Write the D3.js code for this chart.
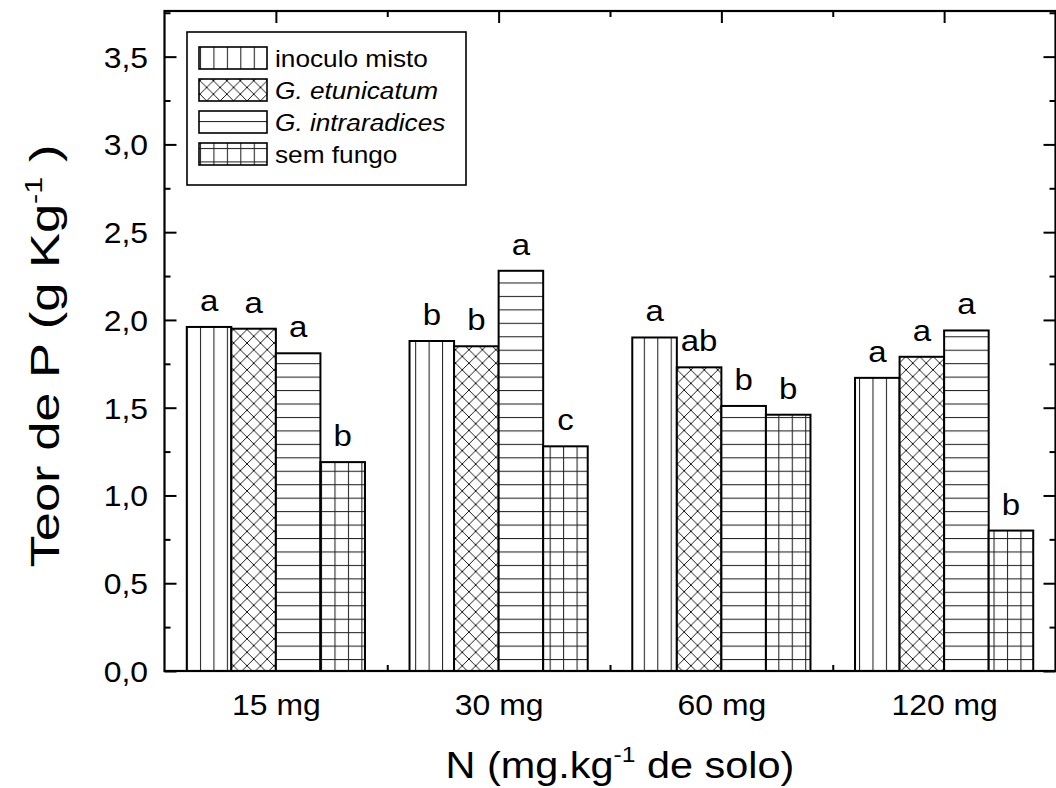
<!DOCTYPE html>
<html lang="pt">
<head>
<meta charset="UTF-8" />
<title>Teor de P</title>
<style>
  body { margin: 0; padding: 0; background: #fff; }
  svg { display: block; font-family: "Liberation Sans", Arial, sans-serif; }
</style>
</head>
<body>
<div id="chart"></div>
<script src="https://d3js.org/d3.v7.min.js"></script>
<script>
// data
const doses = ["15 mg", "30 mg", "60 mg", "120 mg"];
const series = ["inoculo misto", "G. etunicatum", "G. intraradices", "sem fungo"];
const inoculoMisto   = [1.96, 1.88, 1.90, 1.67];
const gEtunicatum    = [1.95, 1.85, 1.73, 1.79];
const gIntraradices  = [1.81, 2.28, 1.51, 1.94];
const semFungo       = [1.19, 1.28, 1.46, 0.80];
const lettersMisto   = ["a", "b", "a", "a"];
const lettersEtun    = ["a", "b", "ab", "a"];
const lettersIntra   = ["a", "a", "b", "a"];
const lettersSem     = ["b", "c", "b", "b"];
const yTicks = [0, 0.5, 1.0, 1.5, 2.0, 2.5, 3.0, 3.5];

const values = [inoculoMisto, gEtunicatum, gIntraradices, semFungo];
const letters = [lettersMisto, lettersEtun, lettersIntra, lettersSem];
const italic = [false, true, true, false];
const patIds = ["pVert", "pCross", "pHoriz", "pGrid"];

const W = 1056, H = 788;
const mLeft = 164.5, mRight = 1055.5, mTop = 11, mBottom = 671;
const SX = 1.1; // text in the picture is a little wider than plain Arial

const svg = d3.select("#chart").append("svg").attr("width", W).attr("height", H);

// hatch patterns
const defs = svg.append("defs");
const P = 13.45;
function pattern(id) {
  return defs.append("pattern").attr("id", id).attr("patternUnits", "userSpaceOnUse")
    .attr("x", 186.5).attr("y", 0).attr("width", P).attr("height", P);
}
let p = pattern("pVert");
p.append("rect").attr("width", P).attr("height", P).attr("fill", "#fff");
p.append("line").attr("x1", 0.5).attr("x2", 0.5).attr("y1", 0).attr("y2", P).attr("stroke", "#222").attr("stroke-width", 1.1);
p = pattern("pHoriz");
p.append("rect").attr("width", P).attr("height", P).attr("fill", "#fff");
p.append("line").attr("y1", 0.5).attr("y2", 0.5).attr("x1", 0).attr("x2", P).attr("stroke", "#222").attr("stroke-width", 1.1);
p = pattern("pGrid");
p.append("rect").attr("width", P).attr("height", P).attr("fill", "#fff");
p.append("line").attr("x1", 0.5).attr("x2", 0.5).attr("y1", 0).attr("y2", P).attr("stroke", "#222").attr("stroke-width", 1.1);
p.append("line").attr("y1", 0.5).attr("y2", 0.5).attr("x1", 0).attr("x2", P).attr("stroke", "#222").attr("stroke-width", 1.1);
p = pattern("pCross");
p.append("rect").attr("width", P).attr("height", P).attr("fill", "#fff");
p.append("path").attr("d", `M0,0L${P},${P}M${P},0L0,${P}M-1,${P - 1}L1,${P + 1}M${P - 1},-1L${P + 1},1`)
  .attr("stroke", "#000").attr("stroke-width", 0.9).attr("fill", "none");

// scales
const x = d3.scaleLinear().domain([0.5, 4.5]).range([mLeft, mRight]);
const y = d3.scaleLinear().domain([0, 3.76]).range([mBottom, mTop]);
const bw = 0.2;

// bars
values.forEach((vals, s) => {
  const g = svg.append("g");
  g.selectAll("rect").data(vals).join("rect")
    .attr("x", (d, i) => x(i + 1 - 0.4 + s * bw))
    .attr("width", x(bw) - x(0))
    .attr("y", d => y(d))
    .attr("height", d => y(0) - y(d))
    .attr("fill", `url(#${patIds[s]})`)
    .attr("stroke", "#000").attr("stroke-width", 2);
  g.selectAll("text").data(vals).join("text")
    .attr("transform", (d, i) => `translate(${x(i + 1 - 0.4 + (s + 0.5) * bw)},${y(d) - 16}) scale(${SX},1)`)
    .attr("text-anchor", "middle")
    .attr("font-size", 30)
    .text((d, i) => letters[s][i]);
});

// axes (ticks inside)
const groupTicks = [1, 2, 3, 4];
const midTicks = [1.5, 2.5, 3.5];
const minorY = d3.range(0.25, 3.76, 0.5);

function styleAxis(g) {
  g.select(".domain").remove();
  g.selectAll("line").attr("stroke", "#000").attr("stroke-width", 2);
}

svg.append("g").attr("transform", `translate(${mLeft},0)`)
  .call(d3.axisLeft(y).tickValues(yTicks).tickSize(-12).tickPadding(0).tickFormat(d => d3.format(".1f")(d).replace(".", ",")))
  .call(styleAxis)
  .call(g => g.selectAll("text")
    .attr("font-size", 29).attr("fill", "#000").attr("font-family", "Liberation Sans, Arial, sans-serif")
    .attr("x", -15).attr("dy", "0.36em")
    .attr("transform", `scale(${SX},1)`));
svg.append("g").attr("transform", `translate(${mLeft},0)`)
  .call(d3.axisLeft(y).tickValues(minorY).tickSize(-6).tickFormat(""))
  .call(styleAxis);
svg.append("g").attr("transform", `translate(${mRight},0)`)
  .call(d3.axisRight(y).tickValues(yTicks).tickSize(-12).tickFormat(""))
  .call(styleAxis);
svg.append("g").attr("transform", `translate(${mRight},0)`)
  .call(d3.axisRight(y).tickValues(minorY).tickSize(-6).tickFormat(""))
  .call(styleAxis);

svg.append("g").attr("transform", `translate(0,${mTop})`)
  .call(d3.axisTop(x).tickValues(groupTicks).tickSize(-12).tickFormat(""))
  .call(styleAxis);
svg.append("g").attr("transform", `translate(0,${mTop})`)
  .call(d3.axisTop(x).tickValues(midTicks).tickSize(-6).tickFormat(""))
  .call(styleAxis);
svg.append("g").attr("transform", `translate(0,${mBottom})`)
  .call(d3.axisBottom(x).tickValues(midTicks).tickSize(-6).tickFormat(""))
  .call(styleAxis);
svg.append("g").attr("transform", `translate(0,${mBottom})`)
  .call(d3.axisBottom(x).tickValues(groupTicks).tickSize(0).tickPadding(0).tickFormat((d, i) => doses[i]))
  .call(styleAxis)
  .call(g => g.selectAll("text")
    .attr("font-size", 29).attr("fill", "#000").attr("font-family", "Liberation Sans, Arial, sans-serif")
    .attr("y", 44).attr("dy", 0)
    .attr("transform", `scale(${SX},1)`));

// frame
svg.append("rect").attr("x", mLeft).attr("y", mTop).attr("width", mRight - mLeft).attr("height", mBottom - mTop)
  .attr("fill", "none").attr("stroke", "#000").attr("stroke-width", 2.2);

// legend
const lg = svg.append("g");
lg.append("rect").attr("x", 187).attr("y", 32).attr("width", 279).attr("height", 153)
  .attr("fill", "#fff").attr("stroke", "#000").attr("stroke-width", 1.6);
series.forEach((name, s) => {
  const yy = 47 + s * 32;
  lg.append("rect").attr("x", 199).attr("y", yy).attr("width", 68).attr("height", 22)
    .attr("fill", `url(#${patIds[s]})`).attr("stroke", "#000").attr("stroke-width", 1.6);
  lg.append("text")
    .attr("transform", `translate(275,${yy + 20}) scale(1.07,1)`)
    .attr("font-size", 24.5)
    .attr("font-style", italic[s] ? "italic" : "normal")
    .text(name);
});

// axis titles
const xt = svg.append("text")
  .attr("transform", `translate(620,778) scale(1.12,1)`)
  .attr("text-anchor", "middle").attr("font-size", 37);
xt.append("tspan").text("N (mg.kg");
xt.append("tspan").attr("font-size", 22).attr("dy", -16).text("-1");
xt.append("tspan").attr("dy", 16).text(" de solo)");

const yt = svg.append("text")
  .attr("transform", `translate(59,356) rotate(-90) scale(1.28,1)`)
  .attr("text-anchor", "middle").attr("font-size", 41);
yt.append("tspan").text("Teor de P (g Kg");
yt.append("tspan").attr("font-size", 24).attr("dy", -17).text("-1");
yt.append("tspan").attr("dy", 17).text(" )");
</script>
</body>
</html>
